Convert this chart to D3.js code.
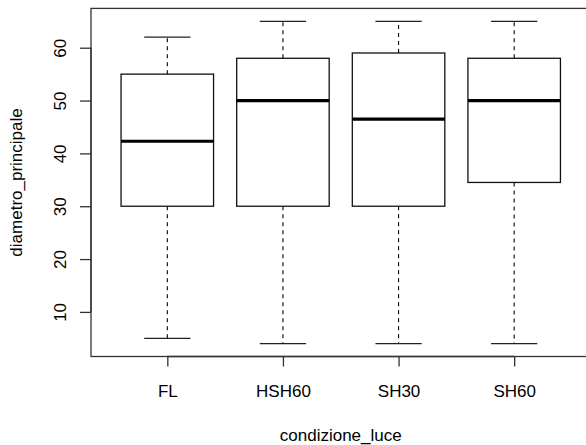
<!DOCTYPE html>
<html><head><meta charset="utf-8">
<script src="https://cdn.jsdelivr.net/npm/d3@7"></script>
<style>body{margin:0;background:#fff}svg{display:block}text{font-family:"Liberation Sans",Arial,sans-serif;fill:#000}</style>
</head><body><svg id="c" width="586" height="445"></svg>
<script>
const categories = ["FL","HSH60","SH30","SH60"];
const whiskerLow = [5,4,4,4];
const q1 = [30,30,30,34.5];
const medians = [42.3,50,46.5,50];
const q3 = [55,58,59,58];
const whiskerHigh = [62,65,65,65];
const yTicks = [10,20,30,40,50,60];

const svg = d3.select("#c");
const pLeft = 91, pRight = 590.5, pTop = 8.4, pBottom = 356.5;
const x = d3.scaleLinear().domain([0.34, 4.66]).range([pLeft, pRight]);
const y = d3.scaleLinear().domain([1.56, 67.44]).range([pBottom, pTop]);

const data = categories.map((c,i)=>({c,i:i+1,lo:whiskerLow[i],q1:q1[i],med:medians[i],q3:q3[i],hi:whiskerHigh[i]}));

const g = svg.append("g");
const bw = 0.4, sw = 0.2;
data.forEach(d=>{
  const gg = g.append("g");
  gg.append("line").attr("x1",x(d.i)).attr("x2",x(d.i)).attr("y1",y(d.q3)).attr("y2",y(d.hi))
    .attr("stroke","#000").attr("stroke-dasharray","4,4").attr("stroke-width",1.1);
  gg.append("line").attr("x1",x(d.i)).attr("x2",x(d.i)).attr("y1",y(d.q1)).attr("y2",y(d.lo))
    .attr("stroke","#000").attr("stroke-dasharray","4,4").attr("stroke-width",1.1);
  [d.lo,d.hi].forEach(v=>gg.append("line").attr("x1",x(d.i-sw)).attr("x2",x(d.i+sw)).attr("y1",y(v)).attr("y2",y(v))
    .attr("stroke","#222").attr("stroke-width",1.3));
  gg.append("rect").attr("x",x(d.i-bw)).attr("width",x(d.i+bw)-x(d.i-bw))
    .attr("y",y(d.q3)).attr("height",y(d.q1)-y(d.q3)).attr("fill","none").attr("stroke","#111").attr("stroke-width",1.3);
  gg.append("line").attr("x1",x(d.i-bw)).attr("x2",x(d.i+bw)).attr("y1",y(d.med)).attr("y2",y(d.med))
    .attr("stroke","#000").attr("stroke-width",3.2);
});

svg.append("rect").attr("x",pLeft).attr("y",pTop).attr("width",pRight-pLeft).attr("height",pBottom-pTop)
  .attr("fill","none").attr("stroke","#333").attr("stroke-width",1.3);

const ya = svg.append("g").attr("transform",`translate(${pLeft},0)`)
  .call(d3.axisLeft(y).tickValues(yTicks).tickSize(11).tickSizeOuter(0).tickFormat(d3.format("d")));
ya.select(".domain").attr("stroke","#333").attr("stroke-width",1.3)
  .attr("d",`M0,${y(10)}V${y(60)}`);
ya.selectAll(".tick line").attr("stroke","#333").attr("stroke-width",1.3);
ya.selectAll(".tick text").attr("font-size",17).attr("fill","#000")
  .attr("x",0).attr("dy",0).attr("text-anchor","middle")
  .attr("transform","translate(-25,0) rotate(-90)");

const xa = svg.append("g").attr("transform",`translate(0,${pBottom})`)
  .call(d3.axisBottom(x).tickValues([1,2,3,4]).tickSize(10).tickSizeOuter(0).tickFormat(d=>categories[d-1]));
xa.select(".domain").attr("stroke","#333").attr("stroke-width",1.3).attr("d",`M${x(1)},0H${x(4)}`);
xa.selectAll(".tick line").attr("stroke","#333").attr("stroke-width",1.3);
xa.selectAll(".tick text").attr("font-size",17).attr("fill","#000").attr("y",40).attr("dy",0);

svg.append("text").attr("x",(pLeft+pRight)/2).attr("y",441).attr("text-anchor","middle").attr("font-size",17).text("condizione_luce");
svg.append("text").attr("transform",`translate(22,${(pTop+pBottom)/2}) rotate(-90)`).attr("text-anchor","middle").attr("font-size",17).text("diametro_principale");
</script></body></html>
